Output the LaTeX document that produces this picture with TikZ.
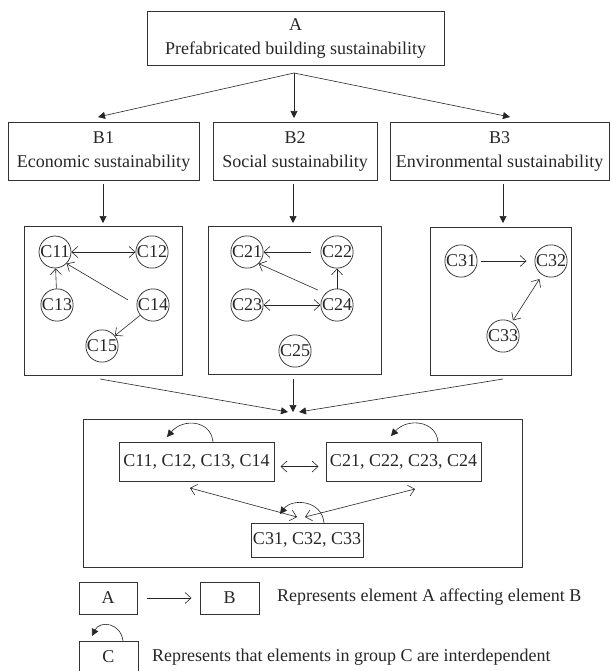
\documentclass[tikz,border=0pt]{standalone}
\usepackage{fontspec}
\setmainfont{Liberation Serif}
\usetikzlibrary{arrows.meta}
\begin{document}
\begin{tikzpicture}[x=1pt,y=-1pt,
  every node/.style={font=\fontsize{18}{24}\selectfont, text=black!85},
  box/.style={draw=black!80, line width=1pt, inner sep=0pt, align=center},
  cnode/.style={draw=black!85, circle, line width=0.7pt, inner sep=0pt, minimum size=32pt},
  ln/.style={draw=black!85, line width=0.6pt},
  fa/.style={ln, -{Triangle[length=7pt,width=7pt]}},
  oa/.style={ln, -{Straight Barb[length=6pt,width=11pt]}},
  oaa/.style={ln, {Straight Barb[length=6pt,width=11pt]}-{Straight Barb[length=6pt,width=11pt]}},
]
\useasboundingbox (0,0) rectangle (611,671);

% top level
\node[box, minimum width=297pt, minimum height=54pt] (A) at (295.5,39) {A\\Prefabricated building sustainability};
\node[box, minimum width=191pt, minimum height=57pt] (B1) at (103.5,151.5) {B1\\Economic sustainability};
\node[box, minimum width=164pt, minimum height=57pt] (B2) at (295,151.5) {B2\\Social sustainability};
\node[box, minimum width=219pt, minimum height=57pt] (B3) at (499.5,151.5) {B3\\Environmental sustainability};

\coordinate (aS) at (294,73);
\coordinate (b1t) at (98,117);
\coordinate (b2t) at (294,118);
\coordinate (b3t) at (510,117);
\draw[fa] (aS) -- (b1t);
\draw[fa] (aS) -- (b2t);
\draw[fa] (aS) -- (b3t);

% cluster boxes
\node[box, minimum width=158pt, minimum height=149pt] (C1) at (103,300.5) {};
\node[box, minimum width=173pt, minimum height=148pt] (C2) at (294.5,300) {};
\node[box, minimum width=141pt, minimum height=148pt] (C3) at (500.5,301) {};

\coordinate (b1d) at (103,184);
\coordinate (b2d) at (293,184);
\coordinate (b3d) at (503,184);
\coordinate (c1t) at (103,223);
\coordinate (c2t) at (293,223);
\coordinate (c3t) at (503,223);
\draw[fa] (b1d) -- (c1t);
\draw[fa] (b2d) -- (c2t);
\draw[fa] (b3d) -- (c3t);

% cluster 1
\node[cnode] (C11) at (55,252) {C11};
\node[cnode] (C12) at (152,252) {C12};
\node[cnode] (C13) at (57,305) {C13};
\node[cnode] (C14) at (153,305) {C14};
\node[cnode] (C15) at (102,346) {C15};
\draw[oaa] (C11) -- (C12);
\draw[oa] (C13) -- (C11);
\draw[oa, shorten <=10pt] (C14.west) -- (C11.south east);
\draw[oa] (C14) -- (C15);

% cluster 2
\node[cnode] (C21) at (247,252) {C21};
\node[cnode] (C22) at (337,252) {C22};
\node[cnode] (C23) at (247,305) {C23};
\node[cnode] (C24) at (337,305) {C24};
\node[cnode] (C25) at (295,351) {C25};
\draw[oa, shorten <=10pt] (C22) -- (C21);
\draw[oa, shorten <=8pt] (C24.north west) -- (C21.south east);
\draw[oaa] (C23) -- (C24);
\draw[oa] (C24) -- (C22);

% cluster 3
\node[cnode] (C31) at (461,261) {C31};
\node[cnode] (C32) at (551,261) {C32};
\node[cnode] (C33) at (503,336) {C33};
\draw[oa, shorten <=4pt, shorten >=8pt] (C31) -- (C32);
\draw[oaa, shorten <=5pt, shorten >=2pt] (C32) -- (C33);

% into bottom box
\coordinate (c1b) at (100,379);
\coordinate (c2b) at (293,379);
\coordinate (c3b) at (503,379);
\coordinate (m1) at (288,412);
\coordinate (m2) at (293,412);
\coordinate (m3) at (299,412);
\draw[fa] (c1b) -- (m1);
\draw[fa] (c2b) -- (m2);
\draw[fa] (c3b) -- (m3);

% bottom box
\node[box, minimum width=439pt, minimum height=148pt] (BB) at (302.5,493) {};
\node[box, minimum width=155pt, minimum height=39pt] (G1) at (196.5,461.5) {C11, C12, C13, C14};
\node[box, minimum width=155pt, minimum height=39pt] (G2) at (403.5,461.5) {C21, C22, C23, C24};
\node[box, minimum width=112pt, minimum height=34pt] (G3) at (307,540) {C31, C32, C33};

\draw[oaa] ([shift={(6pt,-5pt)}]G1.east) -- ([shift={(-7pt,-5pt)}]G2.west);
\coordinate (g1b) at (190,488);
\coordinate (g3l) at (297,517);
\coordinate (g2b) at (415,489);
\coordinate (g3r) at (305,517);
\draw[oaa] (g1b) -- (g3l);
\draw[oaa] (g2b) -- (g3r);

% self loops
\coordinate (l1s) at (213,442);
\coordinate (l1e) at (167,437);
\draw[fa] (l1s) .. controls (211,420) and (183,418) .. (l1e);
\coordinate (l2s) at (438,442);
\coordinate (l2e) at (391,436);
\draw[fa] (l2s) .. controls (436,420) and (407,418) .. (l2e);
\coordinate (l3s) at (324,523);
\coordinate (l3e) at (280,514);
\draw[fa] (l3s) .. controls (322,500) and (292,498) .. (l3e);

% legend
\node[box, minimum width=58pt, minimum height=32pt] (LA) at (108,598) {A};
\node[box, minimum width=59pt, minimum height=32pt] (LB) at (229.5,598) {B};
\draw[oa] ([xshift=9pt]LA.east) -- ([xshift=-8pt]LB.west);
\node[anchor=west, inner sep=0pt] (T1) at (277,597) {Represents element A affecting element B};

\node[box, minimum width=59pt, minimum height=32pt] (LC) at (108.5,657) {C};
\coordinate (lcs) at (123,641);
\coordinate (lce) at (92,636);
\draw[fa] (lcs) .. controls (121,623) and (100,620) .. (lce);
\node[anchor=west, inner sep=0pt] (T2) at (152,657) {Represents that elements in group C are interdependent};
\end{tikzpicture}
\end{document}
